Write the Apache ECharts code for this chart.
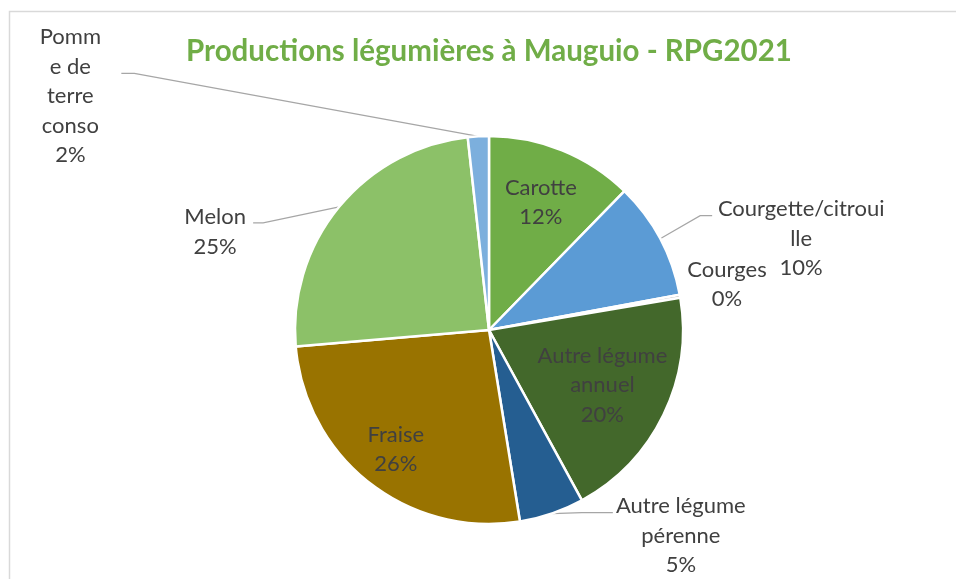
<!DOCTYPE html>
<html>
<head>
<meta charset="utf-8">
<script src="https://cdn.jsdelivr.net/npm/echarts@6/dist/echarts.min.js"></script>
<style>
  html, body { margin: 0; padding: 0; background: #ffffff; }
  #chart { width: 956px; height: 579px; }
</style>
</head>
<body>
<div id="chart"></div>
<script>
// Vegetable crop shares (% of vegetable area), Mauguio, RPG 2021
const categories = [
  'Carotte', 'Courgette/citrouille', 'Courges', 'Autre légume annuel',
  'Autre légume pérenne', 'Fraise', 'Melon', 'Pomme de terre conso'
];
const shares = [12.3, 9.8, 0.25, 19.7, 5.4, 26.2, 24.6, 1.75];
// Label text as wrapped in the chart
const labelTexts = [
  'Carotte', 'Courgette/citroui\nlle', 'Courges', 'Autre légume\nannuel',
  'Autre légume\npérenne', 'Fraise', 'Melon', 'Pomm\ne de\nterre\nconso'
];
const sliceColors = ['#70AD47', '#5B9BD5', '#A5A5A5', '#43682B', '#255E91', '#997300', '#8CC168', '#7CAFDD'];

// Pie geometry
const CX = 489, CY = 330, R = 194;

// Label placement: inside labels sit at a fraction of the radius on the slice bisector;
// outside labels are offset from the point where the bisector meets the rim.
const placement = [
  { inside: true, r: 0.71 },
  { label: [141, 0], elbow: [40, -23], end: [52, -23] },
  { label: [47, -12] },
  { inside: true, r: 0.65 },
  { label: [129, 22], elbow: [30, -1], end: [61, -1] },
  { inside: true, r: 0.78 },
  { label: [-124, 25], elbow: [-76, 16], end: [-86, 16] },
  { label: [-408, -40], elbow: [-344, -63], end: [-357, -63] }
];

const total = shares.reduce((a, b) => a + b, 0);
const midAngles = [];
{
  let acc = 0;
  shares.forEach(v => {
    midAngles.push((acc + v / 2) / total * 2 * Math.PI);
    acc += v;
  });
}
function polar(frac, ang) {
  return [CX + R * frac * Math.sin(ang), CY - R * frac * Math.cos(ang)];
}

const chart = echarts.init(document.getElementById('chart'), null, { renderer: 'canvas' });

const labelStyle = {
  color: '#404040',
  fontFamily: 'Lato',
  fontSize: 22,
  lineHeight: 29.5,
  align: 'center'
};

chart.setOption({
  animation: false,
  backgroundColor: '#ffffff',
  title: {
    text: 'Productions légumières à Mauguio - RPG2021',
    left: 484,
    textAlign: 'center',
    top: 31,
    textStyle: {
      color: '#70AD47',
      fontFamily: 'Lato',
      fontWeight: 'bold',
      fontSize: 29.5
    }
  },
  graphic: [{
    type: 'rect',
    shape: { x: 9.5, y: 11.5, width: 1200, height: 1200 },
    style: { fill: 'none', stroke: '#D9D9D9', lineWidth: 1.5 },
    silent: true
  }],
  series: [{
    type: 'pie',
    center: [CX, CY],
    radius: [0, R],
    startAngle: 90,
    clockwise: true,
    avoidLabelOverlap: false,
    minAngle: 0,
    itemStyle: { borderColor: '#ffffff', borderWidth: 2.5 },
    label: Object.assign({ show: true, position: 'outside' }, labelStyle, {
      formatter: p => labelTexts[p.dataIndex] + '\n' + Math.round(p.value / total * 100) + '%'
    }),
    labelLine: { show: true, length: 10, length2: 10, lineStyle: { color: '#A6A6A6', width: 1.2 } },
    labelLayout: function (params) {
      const i = params.dataIndex;
      const pl = placement[i];
      const ang = midAngles[i];
      if (pl.inside) {
        const p = polar(pl.r, ang);
        return { x: p[0], y: p[1], align: 'center', verticalAlign: 'middle', labelLinePoints: [p, p, p] };
      }
      const e = polar(1, ang);
      const out = {
        x: e[0] + pl.label[0],
        y: e[1] + pl.label[1],
        align: 'center',
        verticalAlign: 'middle'
      };
      if (pl.elbow) {
        out.labelLinePoints = [
          e,
          [e[0] + pl.elbow[0], e[1] + pl.elbow[1]],
          [e[0] + pl.end[0], e[1] + pl.end[1]]
        ];
      }
      return out;
    },
    data: categories.map((name, i) => ({
      name: name,
      value: shares[i],
      itemStyle: { color: sliceColors[i] },
      labelLine: { show: !!placement[i].elbow }
    }))
  }]
});
</script>
</body>
</html>
